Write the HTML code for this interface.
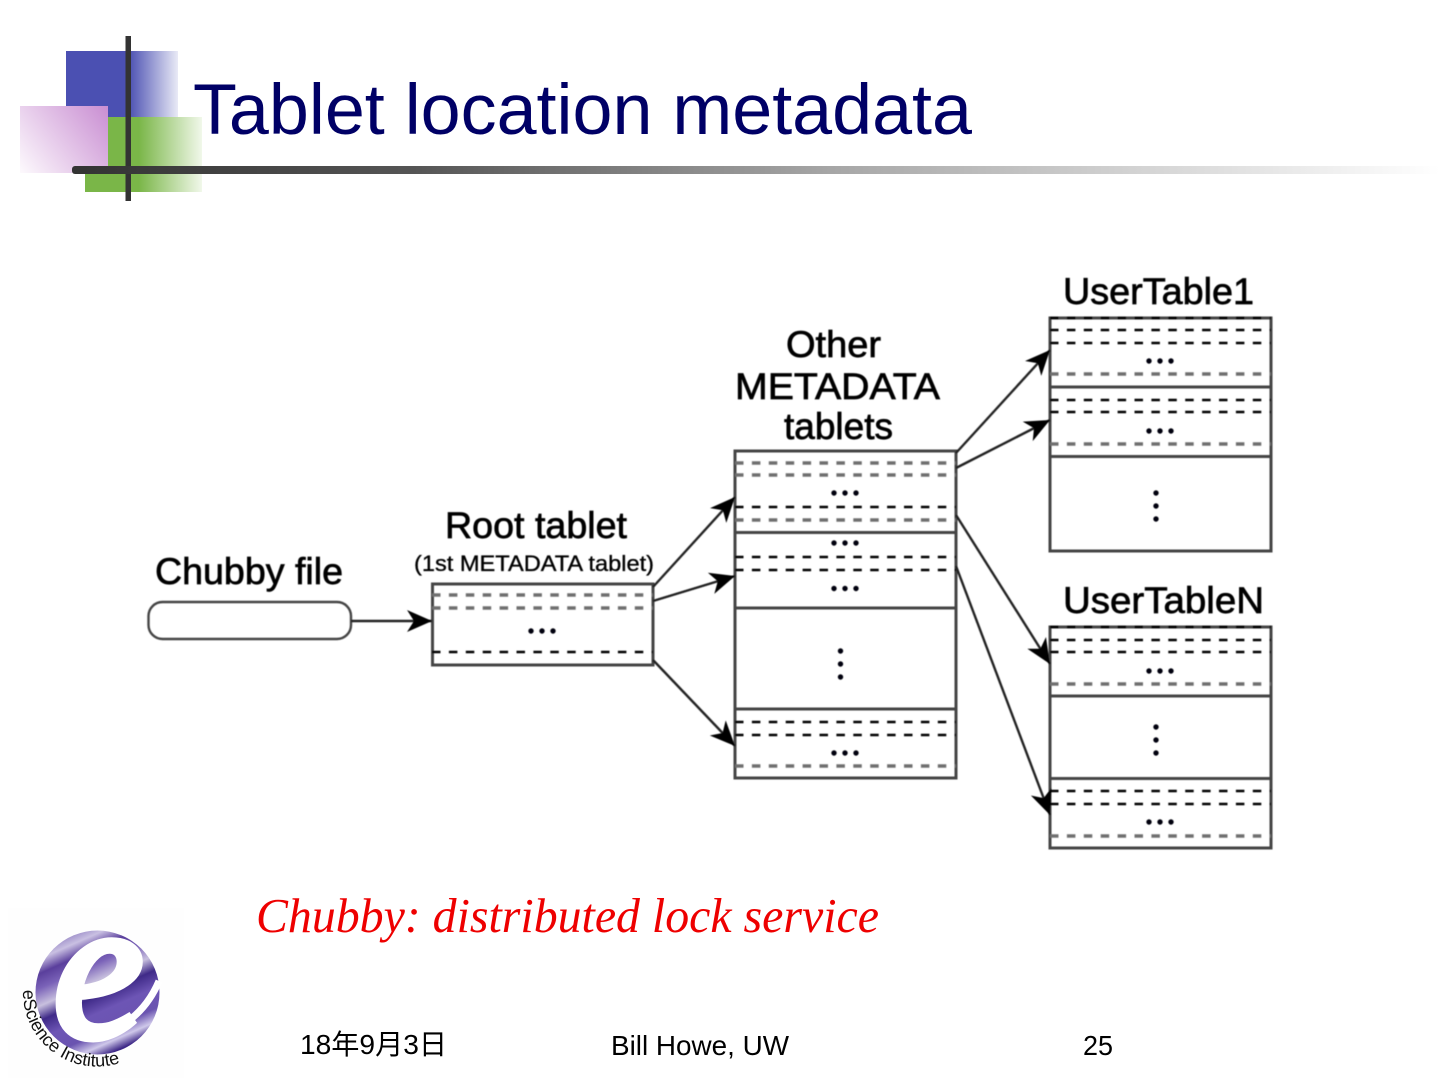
<!DOCTYPE html>
<html><head><meta charset="utf-8"><style>
html,body{margin:0;padding:0;background:#fff;width:1440px;height:1080px;overflow:hidden}
svg{display:block}
</style></head><body>
<svg width="1440" height="1080" viewBox="0 0 1440 1080" xmlns="http://www.w3.org/2000/svg" font-family="'Liberation Sans','Noto Sans CJK JP',sans-serif">
<defs>
<linearGradient id="bl" x1="66" x2="178" y1="0" y2="0" gradientUnits="userSpaceOnUse"><stop offset=".56" stop-color="#4b50b2"/><stop offset="1" stop-color="#e9eaf6"/></linearGradient>
<linearGradient id="gr" x1="85" x2="202" y1="0" y2="0" gradientUnits="userSpaceOnUse"><stop offset=".46" stop-color="#7ab648"/><stop offset="1" stop-color="#f1f8ea"/></linearGradient>
<linearGradient id="pk" x1="108" y1="106" x2="20" y2="173" gradientUnits="userSpaceOnUse"><stop offset="0" stop-color="#c98ed2"/><stop offset="1" stop-color="#fdfafd"/></linearGradient>
<linearGradient id="ln" x1="72" x2="1440" y1="0" y2="0" gradientUnits="userSpaceOnUse"><stop offset="0" stop-color="#333"/><stop offset=".25" stop-color="#555"/><stop offset=".55" stop-color="#a5a5a5"/><stop offset="1" stop-color="#fff"/></linearGradient>
<linearGradient id="lg" x1=".28" y1="0" x2=".72" y2="1"><stop offset="0" stop-color="#8d7cc0"/><stop offset=".1" stop-color="#c9c0e2"/><stop offset=".2" stop-color="#5a3f9c"/><stop offset=".3" stop-color="#7a62b8"/><stop offset=".42" stop-color="#c8c0de"/><stop offset=".52" stop-color="#3f2a88"/><stop offset=".64" stop-color="#6d55b5"/><stop offset=".78" stop-color="#6a54b0"/><stop offset=".87" stop-color="#cfc8ea"/><stop offset=".95" stop-color="#3b2585"/><stop offset="1" stop-color="#8f7cc4"/></linearGradient>
<marker id="ah" markerUnits="userSpaceOnUse" markerWidth="28" markerHeight="24" viewBox="0 -12 26 24" refX="25" refY="0" orient="auto"><polygon points="0,-11 25,0 0,11 7,0" fill="#000"/></marker>
<filter id="b" x="-5%" y="-5%" width="110%" height="110%"><feGaussianBlur stdDeviation=".6"/></filter>
<path id="arc" d="M23,990 A74,74 0 0 0 135,1056"/>
</defs>

<rect x="66" y="51" width="112" height="66" fill="url(#bl)"/>
<rect x="108" y="117" width="94" height="56" fill="url(#gr)"/>
<rect x="85" y="173" width="117" height="19" fill="url(#gr)"/>
<rect x="20" y="106" width="88" height="67" fill="url(#pk)"/>
<rect x="125.500" y="36" width="5.500" height="165" fill="#333"/>
<rect x="72" y="166" width="1368" height="8" rx="3" fill="url(#ln)"/>

<text x="193" y="134" font-size="71" fill="#000066" textLength="779" lengthAdjust="spacingAndGlyphs">Tablet location metadata</text>

<g filter="url(#b)">
<g fill="#000" stroke="#000" stroke-width=".7">
<text x="155" y="584" font-size="37" textLength="188" lengthAdjust="spacingAndGlyphs">Chubby file</text>
<text x="445" y="538" font-size="37" textLength="182" lengthAdjust="spacingAndGlyphs">Root tablet</text>
<text x="414" y="571" font-size="22.500" stroke-width=".35" textLength="240" lengthAdjust="spacingAndGlyphs">(1st METADATA tablet)</text>
<text x="786" y="357" font-size="37" textLength="95" lengthAdjust="spacingAndGlyphs">Other</text>
<text x="735" y="399" font-size="37" textLength="205" lengthAdjust="spacingAndGlyphs">METADATA</text>
<text x="784" y="439" font-size="37" textLength="109" lengthAdjust="spacingAndGlyphs">tablets</text>
<text x="1063" y="304" font-size="37" textLength="191" lengthAdjust="spacingAndGlyphs">UserTable1</text>
<text x="1063" y="613" font-size="37" textLength="201" lengthAdjust="spacingAndGlyphs">UserTableN</text>
</g>

<!-- solid structure -->
<g fill="none" stroke="#444" stroke-width="3">
<rect x="148.500" y="602" width="202.500" height="37" rx="14" stroke-width="2.400"/>
<rect x="432.500" y="584" width="220.500" height="81"/>
<rect x="735" y="451" width="221" height="327"/>
<path d="M735,532.500H956M735,608H956M735,709H956"/>
<rect x="1050" y="318" width="221" height="233"/>
<path d="M1050,387H1271M1050,456.500H1271"/>
<rect x="1050" y="627" width="221" height="221"/>
<path d="M1050,696H1271M1050,778.500H1271"/>
</g>

<!-- dashes, dark -->
<g fill="none" stroke="#000" stroke-width="2.400" stroke-dasharray="8.500 8.400">
<path d="M432,652H653"/>
<path d="M735,507H956M735,557H956M735,570H956M735,722H956M735,735H956"/>
<path d="M1050,318H1271M1050,330H1271M1050,343H1271M1050,400H1271M1050,412H1271"/>
<path d="M1050,627H1271M1050,640H1271M1050,652H1271M1050,791H1271M1050,804H1271"/>
</g>
<!-- dashes, grey -->
<g fill="none" stroke="#707070" stroke-width="3.400" stroke-dasharray="8.500 8.400">
<path d="M432,595H653M432,608H653"/>
<path d="M735,463H956M735,475H956M735,520H956M735,766H956"/>
<path d="M1050,374H1271M1050,444H1271"/>
<path d="M1050,684H1271M1050,836H1271"/>
</g>

<!-- ellipsis dots -->
<g fill="#000010">
<circle cx="531" cy="631" r="2.700"/><circle cx="542" cy="631" r="2.700"/><circle cx="553" cy="631" r="2.700"/>
<circle cx="834" cy="493" r="2.700"/><circle cx="845" cy="493" r="2.700"/><circle cx="856" cy="493" r="2.700"/>
<circle cx="834" cy="543" r="2.700"/><circle cx="845" cy="543" r="2.700"/><circle cx="856" cy="543" r="2.700"/>
<circle cx="834" cy="588.500" r="2.700"/><circle cx="845" cy="588.500" r="2.700"/><circle cx="856" cy="588.500" r="2.700"/>
<circle cx="840.500" cy="651" r="2.700"/><circle cx="840.500" cy="664" r="2.700"/><circle cx="840.500" cy="677" r="2.700"/>
<circle cx="834" cy="753" r="2.700"/><circle cx="845" cy="753" r="2.700"/><circle cx="856" cy="753" r="2.700"/>
<circle cx="1149" cy="361" r="2.700"/><circle cx="1160" cy="361" r="2.700"/><circle cx="1171" cy="361" r="2.700"/>
<circle cx="1149" cy="431" r="2.700"/><circle cx="1160" cy="431" r="2.700"/><circle cx="1171" cy="431" r="2.700"/>
<circle cx="1156" cy="493" r="2.700"/><circle cx="1156" cy="506" r="2.700"/><circle cx="1156" cy="519" r="2.700"/>
<circle cx="1149" cy="671" r="2.700"/><circle cx="1160" cy="671" r="2.700"/><circle cx="1171" cy="671" r="2.700"/>
<circle cx="1156" cy="727" r="2.700"/><circle cx="1156" cy="740" r="2.700"/><circle cx="1156" cy="753" r="2.700"/>
<circle cx="1149" cy="822" r="2.700"/><circle cx="1160" cy="822" r="2.700"/><circle cx="1171" cy="822" r="2.700"/>
</g>

<!-- connectors -->
<g fill="none" stroke="#222" stroke-width="2.400">
<path d="M351,621H432" marker-end="url(#ah)"/>
<path d="M653,587L735,497" marker-end="url(#ah)"/>
<path d="M653,601L735,576" marker-end="url(#ah)"/>
<path d="M653,660L735,746" marker-end="url(#ah)"/>
<path d="M956,453L1050,350" marker-end="url(#ah)"/>
<path d="M956,468L1050,420" marker-end="url(#ah)"/>
<path d="M956,515L1050,664" marker-end="url(#ah)"/>
<path d="M956,566L1050,815" marker-end="url(#ah)"/>
</g>
</g>

<text x="256" y="932" font-family="'Liberation Serif',serif" font-style="italic" font-size="49" fill="#ee0000" textLength="623" lengthAdjust="spacingAndGlyphs">Chubby: distributed lock service</text>

<!-- logo -->
<rect x="8" y="908" width="176" height="170" fill="#fefefe"/>
<circle cx="97.500" cy="992.500" r="62" fill="url(#lg)"/>
<text x="54" y="1036" font-family="'Liberation Serif',serif" font-style="italic" font-size="200" fill="#fff" stroke="#fff" stroke-width="9">e</text>
<path d="M84,1037C118,1036 146,1012 159,981" fill="none" stroke="#fff" stroke-width="7"/>
<text font-size="18" fill="#111"><textPath href="#arc">eScience Institute</textPath></text>

<text x="300" y="1054" font-size="28" fill="#000" textLength="147" lengthAdjust="spacingAndGlyphs">18年9月3日</text>
<text x="611" y="1055" font-size="28" fill="#000" textLength="178" lengthAdjust="spacingAndGlyphs">Bill Howe, UW</text>
<text x="1083" y="1055" font-size="28" fill="#000" textLength="30" lengthAdjust="spacingAndGlyphs">25</text>
</svg>
</body></html>
